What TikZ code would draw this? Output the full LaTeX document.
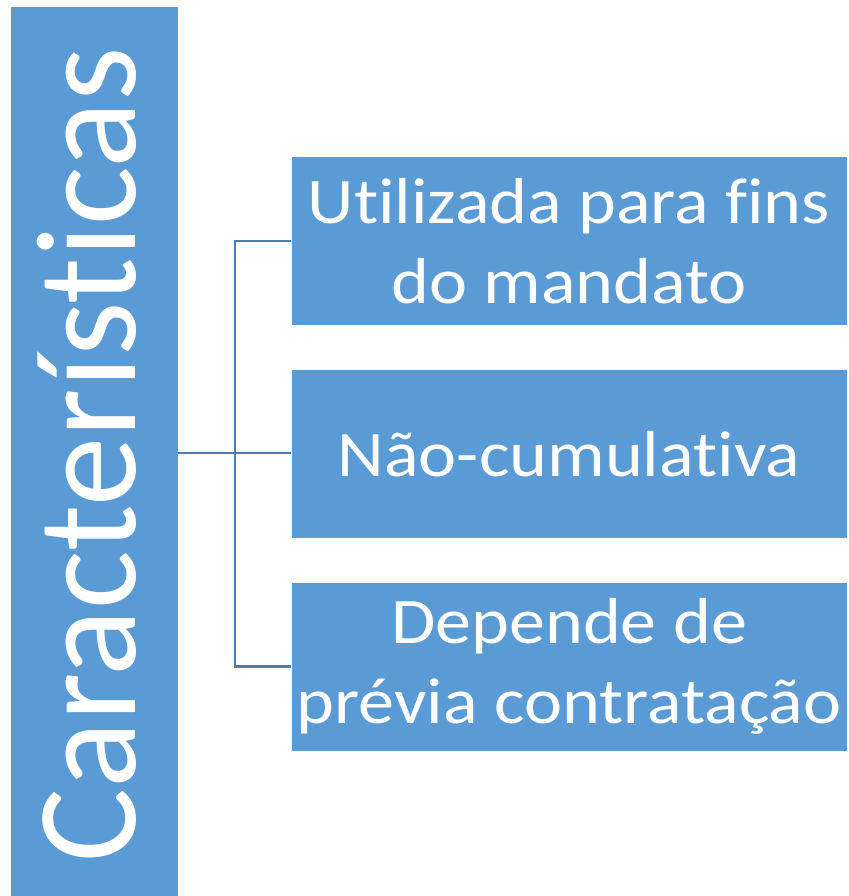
\documentclass[tikz,border=0pt]{standalone}
\usepackage{fontspec}
\setmainfont[Ligatures=NoCommon]{Carlito}
\newfontfamily\boxfont[Ligatures=NoCommon,FakeStretch=1.11]{Carlito}
\newfontfamily\titlefont[Ligatures=NoCommon,FakeStretch=0.97]{Carlito}
\definecolor{boxblue}{HTML}{5B9BD5}
\definecolor{lineblue}{HTML}{4A7EB0}
\begin{document}
\begin{tikzpicture}[x=1pt,y=-1pt,
  itembox/.style={fill=boxblue, draw=none, minimum width=555pt, minimum height=168pt, inner sep=0pt,
    text=white, align=center, font=\boxfont\fontsize{65}{80}\selectfont},
  conn/.style={draw=lineblue, line width=2.2pt}]
\useasboundingbox (0,0) rectangle (848,896);
\node[fill=boxblue, minimum width=167pt, minimum height=889pt, inner sep=0pt, anchor=north west] (bar) at (11,7) {};
\node[text=white, rotate=90, font=\titlefont\fontsize{143}{150}\selectfont, inner sep=0pt, anchor=base] (title) at (135,455) {Características};
\node[itembox] (b1) at (569,241) {Utilizada para fins\\do mandato};
\node[itembox] (b2) at (569,454) {Não-cumulativa};
\node[itembox] (b3) at (569,666.5) {Depende de\\prévia contratação};
\coordinate (j) at (235,453);
\draw[conn] (bar.east |- j) -- (j);
\draw[conn] (b1.west) -| (j |- b1.west) -- (j |- b3.west) -- (b3.west);
\draw[conn] (j) -- (b2.west |- j);
\end{tikzpicture}
\end{document}
